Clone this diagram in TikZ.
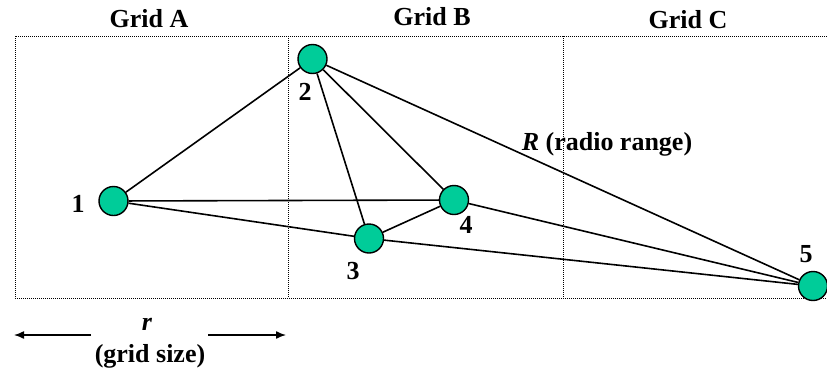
\documentclass[tikz,border=0pt]{standalone}
\usepackage{fontspec}
\setmainfont{Liberation Serif}
\usetikzlibrary{arrows.meta}
\definecolor{nodegreen}{RGB}{0,204,153}
\begin{document}
\begin{tikzpicture}[x=1pt,y=-1pt,
  sensor/.style={circle,draw=black,line width=1.4pt,fill=nodegreen,minimum size=29pt,inner sep=0pt},
  lbl/.style={font=\fontsize{26}{29}\selectfont\bfseries,anchor=base,inner sep=0pt},
  link/.style={line width=1.6pt,black},
  gridline/.style={line width=1pt,dash pattern=on 1pt off 1pt},
  dim/.style={line width=1.4pt,-{Latex[length=10pt,width=8pt]}}]
\useasboundingbox (0,0) rectangle (827,370);
% grid
\draw[gridline] (827,36) -- (15,36) -- (15,298) -- (827,298);
\draw[gridline] (288,36) -- (288,298);
\draw[gridline] (563,36) -- (563,298);
% titles
\node[lbl] (ga) at (149,27) {Grid A};
\node[lbl] (gb) at (432,25) {Grid B};
\node[lbl] (gc) at (688,28) {Grid C};
% nodes
\node[sensor] (n1) at (113.5,201) {};
\node[sensor] (n2) at (312.5,59) {};
\node[sensor] (n3) at (369,238.5) {};
\node[sensor] (n4) at (454,200) {};
\node[sensor] (n5) at (813,286) {};
% links
\draw[link] (n1) -- (n2);
\draw[link] (n1) -- (n4);
\draw[link] (n1) -- (n3);
\draw[link] (n2) -- (n3);
\draw[link] (n2) -- (n4);
\draw[link] (n2) -- (n5);
\draw[link] (n3) -- (n4);
\draw[link] (n3) -- (n5);
\draw[link] (n4) -- (n5);
% node labels
\node[lbl] (l1) at (78,212) {1};
\node[lbl] (l2) at (305,100) {2};
\node[lbl] (l3) at (353,279) {3};
\node[lbl] (l4) at (466,233) {4};
\node[lbl] (l5) at (806,262) {5};
\node[lbl] (rr) at (607,150) {\itshape R\upshape\ (radio range)};
% grid size
\node[lbl] (rs) at (147,330) {\itshape r};
\node[lbl] (gs) at (150,362) {(grid size)};
\coordinate (al) at (91,335);
\coordinate (ae) at (14,335);
\coordinate (bl) at (208,335);
\coordinate (be) at (286,335);
\draw[dim] (al) -- (ae);
\draw[dim] (bl) -- (be);
\end{tikzpicture}
\end{document}
